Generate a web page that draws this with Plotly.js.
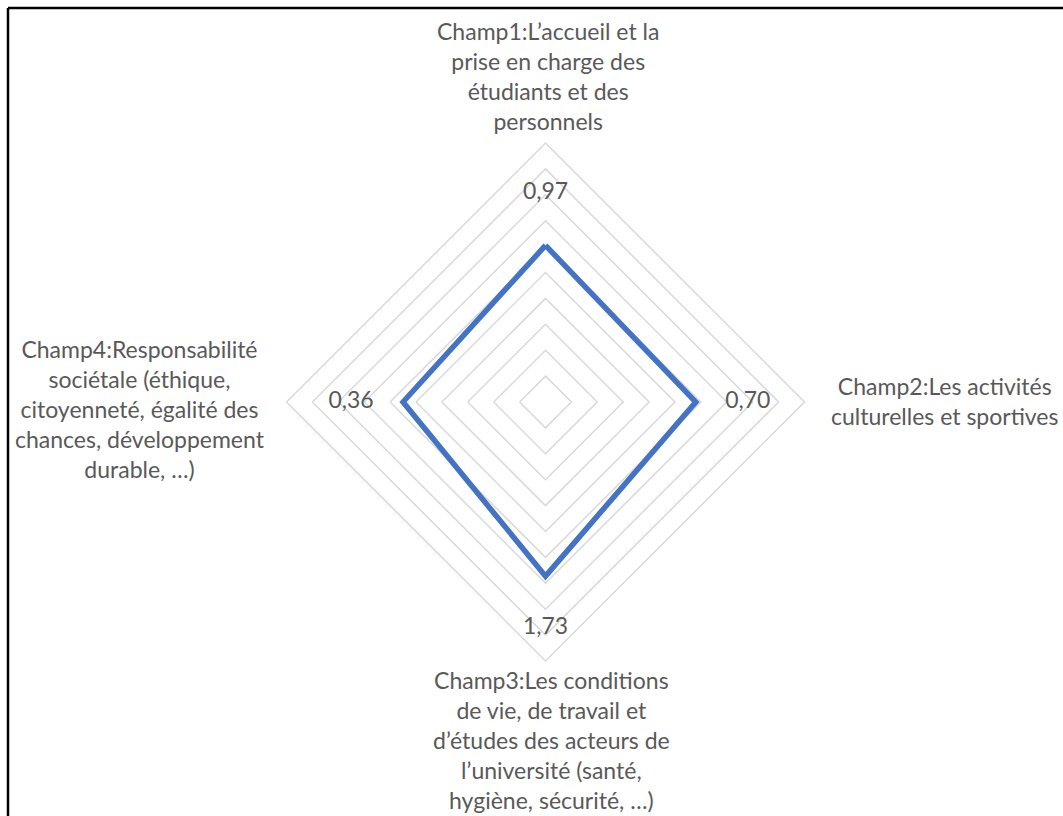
<!DOCTYPE html>
<html>
<head>
<meta charset="utf-8">
<script src="https://cdn.plot.ly/plotly-3.0.1.min.js"></script>
<style>
  html, body { margin: 0; padding: 0; background: #ffffff; }
  #chart { width: 1063px; height: 816px; }
</style>
</head>
<body>
<div id="chart"></div>
<script>
// Axis categories (one per spoke, clockwise from the top)
const categories = [
  "Champ1:L’accueil et la<br>prise en charge des<br>étudiants et des<br>personnels",
  "Champ2:Les activités<br>culturelles et sportives",
  "Champ3:Les conditions<br>de vie, de travail et<br>d’études des acteurs de<br>l’université (santé,<br>hygiène, sécurité, …)",
  "Champ4:Responsabilité<br>sociétale (éthique,<br>citoyenneté, égalité des<br>chances, développement<br>durable, …)"
];

// Score per field
const scores = [0.97, 0.70, 1.73, 0.36];

// Value labels as printed (French decimal comma)
const scoreLabels = scores.map(v => v.toFixed(2).replace(".", ","));

// Radial scale
const radialMin = -5.8;
const radialMax = 5.4;
const radialStep = 1.12;
const labelGap = 2.25;   // distance between a point and its value label, in radial units

const W = 1063, H = 816;
const cx = 545.5, cy = 402, R = 259;
const px = x => x / W;
const py = y => 1 - y / H;

const textColor = "#595959";
const gridColor = "#d9d9d9";
const lineColor = "#4472c4";
const font = "Lato, 'Open Sans', sans-serif";

const closedTheta = categories.concat([categories[0]]);
const closedR = scores.concat([scores[0]]);

const traces = [
  {
    type: "scatterpolar",
    mode: "lines",
    r: closedR,
    theta: closedTheta,
    line: { color: lineColor, width: 5.5 },
    hoverinfo: "skip",
    showlegend: false
  },
  {
    type: "scatterpolar",
    mode: "text",
    r: scores.map(v => v + labelGap),
    theta: categories,
    text: scoreLabels,
    textposition: "middle center",
    textfont: { family: font, size: 23, color: textColor },
    cliponaxis: true,
    hoverinfo: "skip",
    showlegend: false
  }
];

// Category label placement around the chart
const labelSpots = [
  { x: 548, y: 76 },
  { x: 945, y: 401 },
  { x: 551, y: 740 },
  { x: 140, y: 409 }
];

const annotations = categories.map((c, i) => ({
  text: c,
  xref: "paper", yref: "paper",
  x: px(labelSpots[i].x), y: py(labelSpots[i].y),
  xanchor: "center", yanchor: "middle",
  align: "center",
  showarrow: false,
  font: { family: font, size: 23, color: textColor }
}));

const layout = {
  width: W, height: H,
  margin: { l: 0, r: 0, t: 0, b: 0 },
  paper_bgcolor: "#ffffff",
  plot_bgcolor: "#ffffff",
  showlegend: false,
  polar: {
    domain: { x: [px(cx - R), px(cx + R)], y: [py(cy + R), py(cy - R)] },
    bgcolor: "#ffffff",
    gridshape: "linear",
    radialaxis: {
      range: [radialMin, radialMax],
      tick0: radialMin,
      dtick: radialStep,
      showticklabels: false,
      ticks: "",
      showline: false,
      showgrid: true,
      gridcolor: gridColor,
      gridwidth: 1.5
    },
    angularaxis: {
      type: "category",
      categoryarray: categories,
      rotation: 90,
      direction: "clockwise",
      showticklabels: false,
      ticks: "",
      showgrid: false,
      showline: true,
      linecolor: gridColor,
      linewidth: 1.5
    }
  },
  annotations: annotations,
  shapes: [
    { type: "line", xref: "paper", yref: "paper", x0: px(8), x1: 1.01, y0: py(8), y1: py(8),
      line: { color: "#000000", width: 2.5 } },
    { type: "line", xref: "paper", yref: "paper", x0: px(8), x1: px(8), y0: py(8), y1: -0.01,
      line: { color: "#000000", width: 2.5 } }
  ]
};

Plotly.newPlot("chart", traces, layout, { displayModeBar: false, staticPlot: true });
</script>
</body>
</html>
